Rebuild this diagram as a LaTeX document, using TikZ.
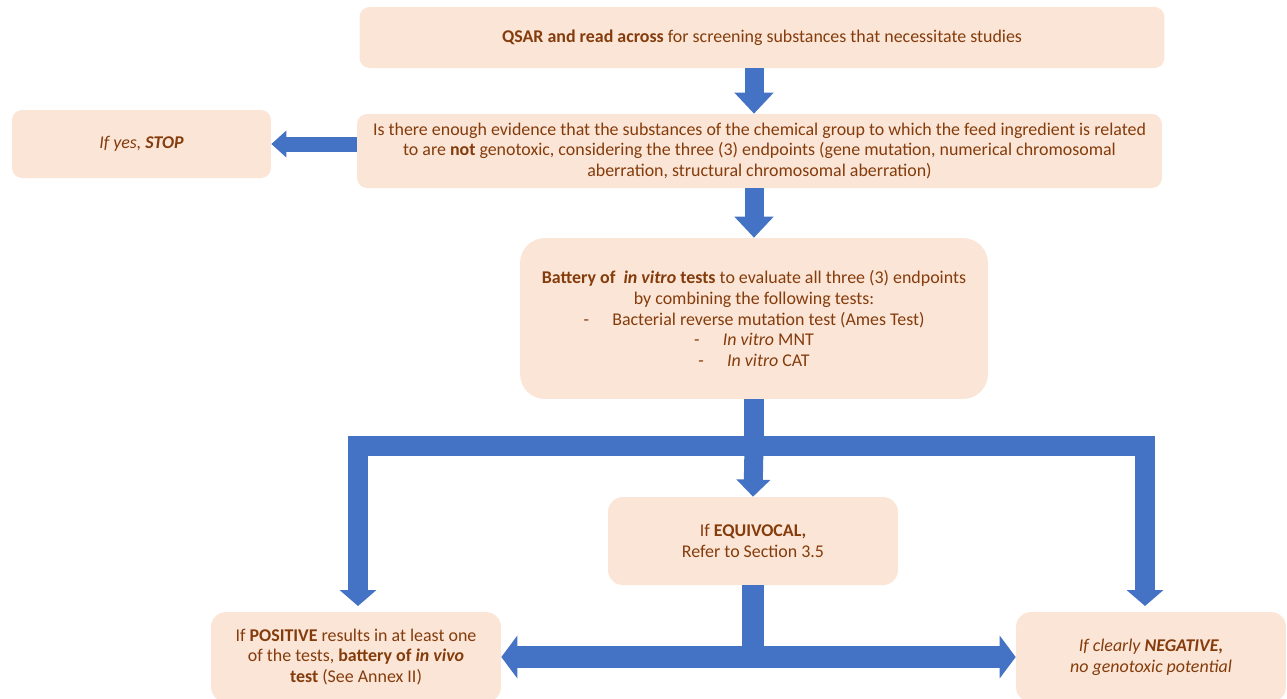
\documentclass[tikz,border=0pt]{standalone}
\usepackage{fontspec}
\setmainfont{Carlito}
\usepackage{tikz}
\usetikzlibrary{arrows.meta, positioning, calc}
\definecolor{boxfill}{RGB}{251,229,214}
\definecolor{boxtext}{RGB}{132,60,12}
\definecolor{arrowblue}{RGB}{68,114,196}

\begin{document}
\begin{tikzpicture}[
    x=0.02cm, y=-0.02cm,
    stepbox/.style={fill=boxfill, text=boxtext, align=center, inner sep=0pt, rounded corners=0.2cm, font=\fontsize{10.2}{11.9}\selectfont},
    bigarrow/.style={arrowblue, line width=0.38cm, -{Triangle[width=0.76cm, length=0.42cm]}},
    sidearrow/.style={arrowblue, line width=0.3cm, -{Triangle[width=0.52cm, length=0.3cm]}},
    branch/.style={arrowblue, line width=0.4cm, line join=miter},
    branchtips/.style={{Triangle[width=#1, length=0.32cm]}-{Triangle[width=#1, length=0.32cm]}}
]
    \useasboundingbox (0,0) rectangle (1287,698);

    % Screening steps
    \node[stepbox, minimum width=16.1cm, minimum height=1.22cm] (qsar) at (762,37.5) {\textbf{QSAR and read across} for screening substances that necessitate studies};
    \node[stepbox, minimum width=5.18cm, minimum height=1.36cm] (stop) at (141.5,144) {\textit{If yes, \textbf{STOP}}};
    \node[stepbox, minimum width=16.1cm, minimum height=1.48cm] (evidence) at (759.5,151) {Is there enough evidence that the substances of the chemical group to which the feed ingredient is related\\ to are \textbf{not} genotoxic, considering the three (3) endpoints (gene mutation, numerical chromosomal\\ aberration, structural chromosomal aberration)};

    % In vitro battery
    \node[stepbox, rounded corners=0.5cm, minimum width=9.36cm, minimum height=3.22cm] (invitro) at (754,318.5) {\textbf{Battery of \ \textit{in vitro} tests} to evaluate all three (3) endpoints\\ by combining the following tests:\\ -\hspace{1.3em}Bacterial reverse mutation test (Ames Test)\\ -\hspace{1.3em}\textit{In vitro} MNT\\ -\hspace{1.3em}\textit{In vitro} CAT};

    \draw[bigarrow] (qsar.south -| invitro.north) -- (evidence.north -| invitro.north);
    \draw[sidearrow] (evidence.west |- stop.east) -- (stop.east);
    \draw[bigarrow] (evidence.south -| invitro.north) -- (invitro.north);

    % Outcomes
    \node[stepbox, rounded corners=0.3cm, minimum width=5.8cm, minimum height=1.76cm] (equivocal) at (753,541) {If \textbf{EQUIVOCAL,}\\ Refer to Section 3.5};
    \node[stepbox, rounded corners=0.3cm, minimum width=5.8cm, minimum height=1.8cm] (positive) at (356,657) {If \textbf{POSITIVE} results in at least one\\ of the tests, \textbf{battery of \textit{in vivo}}\\ \textbf{test} (See Annex II)};
    \node[stepbox, rounded corners=0.3cm, minimum width=5.4cm, minimum height=1.8cm] (negative) at (1151,657) {\textit{If clearly \textbf{NEGATIVE,}}\\ \textit{no genotoxic potential}};

    \coordinate (split) at (754,446);
    \coordinate (leftdrop) at (358,446);
    \coordinate (rightdrop) at (1145,446);
    \coordinate (lefttip) at (358,606);
    \coordinate (righttip) at (1145,606);
    \coordinate (merge) at (753,658);

    \draw[branch] (invitro.south) -- (split);
    \draw[branch, branchtips=0.72cm] (lefttip) -- (leftdrop) -- (rightdrop) -- (righttip);
    \draw[bigarrow, -{Triangle[width=0.66cm, length=0.34cm]}] (split) -- (equivocal.north);

    \draw[branch, line width=0.44cm] (equivocal.south) -- (merge);
    \draw[branch, line width=0.44cm, branchtips=0.84cm] (positive.east) -- (negative.west);
\end{tikzpicture}
\end{document}
